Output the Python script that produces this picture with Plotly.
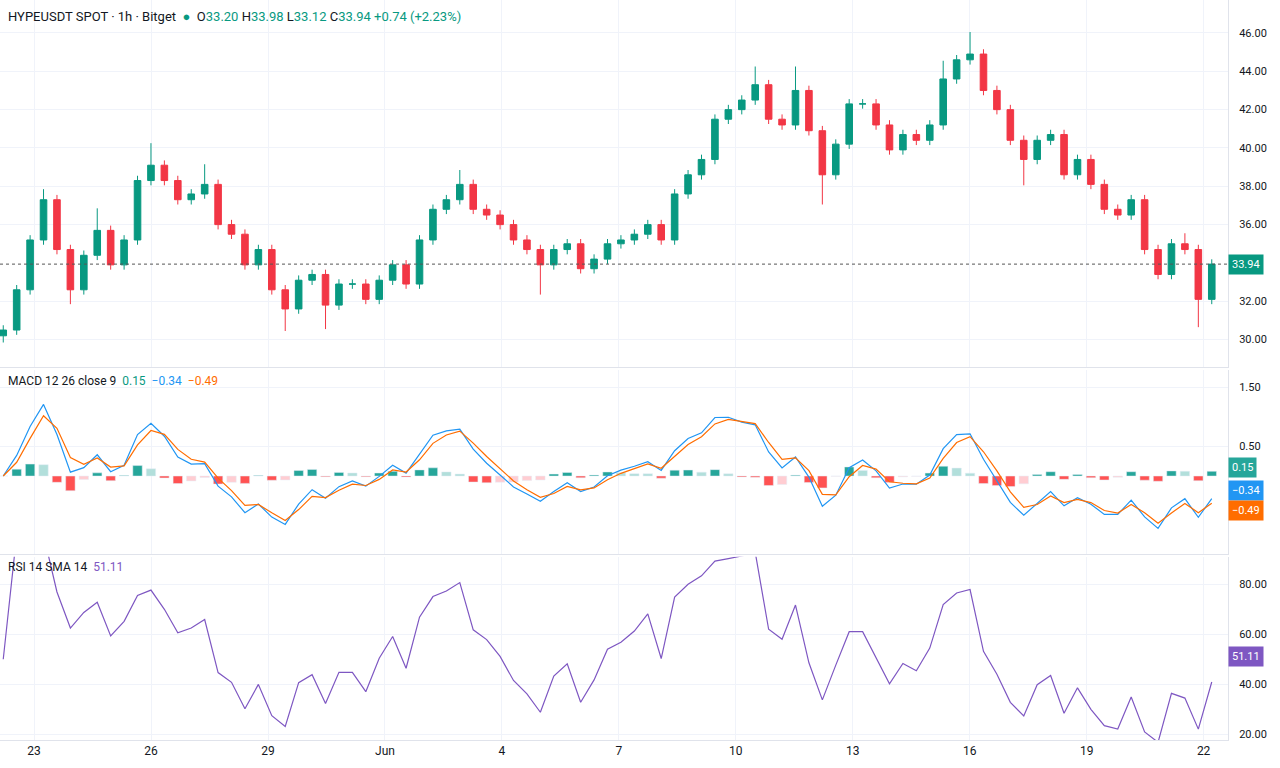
import pandas as pd
import numpy as np
import plotly.graph_objects as go
from plotly.subplots import make_subplots

# Closing prices (approx. every 8.6 hours)
closes = [30.5,32.6,35.2,37.3,34.7,32.6,34.4,35.7,33.9,35.2,38.3,39.1,38.3,37.3,37.6,38.1,36.0,35.5,33.9,34.7,
          32.6,31.6,33.1,33.4,31.8,32.9,32.9,32.1,33.1,33.9,32.9,35.2,36.8,37.3,38.1,36.8,36.5,36.0,35.2,34.7,
          33.9,34.7,35.0,33.7,34.2,35.0,35.2,35.5,36.0,35.2,37.6,38.6,39.4,41.5,42.0,42.5,43.3,41.5,41.2,43.0,
          40.9,38.6,40.2,42.3,42.3,41.2,39.9,40.7,40.4,41.2,43.6,44.6,44.9,43.0,42.0,40.4,39.4,40.4,40.7,38.6,
          39.4,38.1,36.8,36.5,37.3,34.7,33.4,35.0,34.7,32.1,33.94]
opens = [30.2] + closes[:-1]
# extreme wick values (bar index -> value)
high_marks = {3: 37.6, 7: 36.6, 11: 40.0, 15: 38.9, 34: 38.6, 56: 44.0, 59: 44.0, 72: 45.8, 70: 44.3, 88: 35.3}
low_marks = {0: 30.1, 5: 32.1, 21: 30.7, 24: 30.8, 40: 32.6, 61: 37.3, 76: 38.3, 89: 30.9}

start = pd.Timestamp("2025-05-22 05:00")
step = pd.Timedelta(hours=744 / (len(closes) - 1))
dates = [start + i * step for i in range(len(closes))]
highs = [max(o, c, high_marks.get(i, 0)) + 0.25 for i, (o, c) in enumerate(zip(opens, closes))]
lows = [min(o, c, low_marks.get(i, 99)) - 0.25 for i, (o, c) in enumerate(zip(opens, closes))]

tick_dates = ["2025-05-23", "2025-05-26", "2025-05-29", "2025-06-01", "2025-06-04", "2025-06-07",
              "2025-06-10", "2025-06-13", "2025-06-16", "2025-06-19", "2025-06-22"]
tick_text = ["23", "26", "29", "Jun", "4", "7", "10", "13", "16", "19", "22"]

UP, DN = "#089981", "#F23645"
s = pd.Series(closes)
ema_f = s.ewm(span=3, adjust=False).mean()
ema_s = s.ewm(span=5, adjust=False).mean()
macd = ema_f - ema_s
sig = macd.ewm(span=2, adjust=False).mean()
hist = macd - sig
d = s.diff()
up = d.clip(lower=0).ewm(alpha=1/5, adjust=False).mean()
dn = (-d.clip(upper=0)).ewm(alpha=1/5, adjust=False).mean()
rsi = (100 - 100 / (1 + up / dn.replace(0, 1e-9))).fillna(50)

fig = make_subplots(rows=3, cols=1, shared_xaxes=True, vertical_spacing=0.003,
                    row_heights=[0.497, 0.25, 0.248])
fig.add_trace(go.Candlestick(x=dates, open=opens, high=highs, low=lows, close=closes,
                             increasing=dict(line=dict(color=UP, width=1), fillcolor=UP),
                             decreasing=dict(line=dict(color=DN, width=1), fillcolor=DN),
                             whiskerwidth=0, showlegend=False), row=1, col=1)
fig.add_hline(y=closes[-1], line=dict(color="#555", width=1, dash="dot"), row=1, col=1)

hcol = []
for i, h in enumerate(hist):
    prev = hist[i - 1] if i else 0
    if h >= 0:
        hcol.append("#26A69A" if h >= prev else "#B2DFDB")
    else:
        hcol.append("#FF5252" if h < prev else "#FFCDD2")
fig.add_trace(go.Bar(x=dates, y=hist, marker_color=hcol, showlegend=False), row=2, col=1)
fig.add_trace(go.Scatter(x=dates, y=macd, mode="lines", line=dict(color="#2196F3", width=1.2), showlegend=False), row=2, col=1)
fig.add_trace(go.Scatter(x=dates, y=sig, mode="lines", line=dict(color="#FF6D00", width=1.2), showlegend=False), row=2, col=1)

fig.add_hrect(y0=30, y1=70, fillcolor="rgba(126,87,194,0.1)", line_width=0, row=3, col=1)
for lv in (70, 30):
    fig.add_hline(y=lv, line=dict(color="#787B86", width=1, dash="dash"), row=3, col=1)
fig.add_trace(go.Scatter(x=dates, y=rsi, mode="lines", line=dict(color="#7E57C2", width=1.2), showlegend=False), row=3, col=1)

xr = [start - pd.Timedelta(hours=2), dates[-1] + pd.Timedelta(hours=10)]
for r in (1, 2, 3):
    fig.update_xaxes(range=xr, showgrid=True, gridcolor="#F0F3FA", tickvals=tick_dates, ticktext=tick_text,
                     showticklabels=(r == 3), rangeslider_visible=False, row=r, col=1,
                     linecolor="#E0E3EB", showline=True, mirror=False, tickfont=dict(size=12, color="#131722"))
pt = [30, 32, 36, 38, 40, 42, 44, 46]
fig.update_yaxes(side="right", range=[28.55, 47.72], tickvals=pt, ticktext=[f"{v:.2f}" for v in pt], row=1, col=1)
fig.update_yaxes(side="right", range=[-1.33, 1.805], tickvals=[0.5, 1.5], ticktext=["0.50", "1.50"], row=2, col=1)
fig.update_yaxes(side="right", range=[17.6, 91.2], tickvals=[20, 40, 60, 80],
                 ticktext=["20.00", "40.00", "60.00", "80.00"], row=3, col=1)
fig.update_yaxes(showgrid=True, gridcolor="#F0F3FA", zeroline=False, showline=True, linecolor="#E0E3EB",
                 tickfont=dict(size=11, color="#131722"), ticks="", ticklabelstandoff=8)

anns = [
    dict(x=0.005, y=0.99, text="HYPEUSDT SPOT · 1h · Bitget  <span style='color:#089981'>●</span>  O<span style='color:#089981'>33.20</span> H<span style='color:#089981'>33.98</span> L<span style='color:#089981'>33.12</span> C<span style='color:#089981'>33.94 +0.74 (+2.23%)</span>",
         font=dict(size=13, color="#131722")),
    dict(x=0.005, y=0.497, text="MACD 12 26 close 9  <span style='color:#089981'>0.15</span>  <span style='color:#2196F3'>−0.34</span>  <span style='color:#FF6D00'>−0.49</span>",
         font=dict(size=12, color="#131722")),
    dict(x=0.005, y=0.246, text="RSI 14 SMA 14  <span style='color:#7E57C2'>51.11</span>", font=dict(size=12, color="#131722")),
]
for a in anns:
    fig.add_annotation(xref="paper", yref="paper", xanchor="left", yanchor="top", showarrow=False,
                       font_family="Roboto", **a)

def tag(yref, y, text, color, ys=0):
    fig.add_annotation(xref="paper", yref=yref, x=1.0, y=y, text=text, showarrow=False, xanchor="left",
                       bgcolor=color, font=dict(color="white", size=11), borderpad=3, yshift=ys)
tag("y", closes[-1], f"{closes[-1]:.2f}", UP)
tag("y2", 0.15, "0.15", "#26A69A")
tag("y2", -0.34, "−0.34", "#2196F3", 6)
tag("y2", -0.49, "−0.49", "#FF6D00", -6)
tag("y3", 51.11, "51.11", "#7E57C2")

fig.update_layout(width=1280, height=768, margin=dict(l=0, r=52, t=0, b=28), plot_bgcolor="white",
                  paper_bgcolor="white", font=dict(family="Roboto", color="#131722"), bargap=0.3)
fig.write_html("out.html", post_script="document.body.style.margin='0';",
               config={"displayModeBar": False})
